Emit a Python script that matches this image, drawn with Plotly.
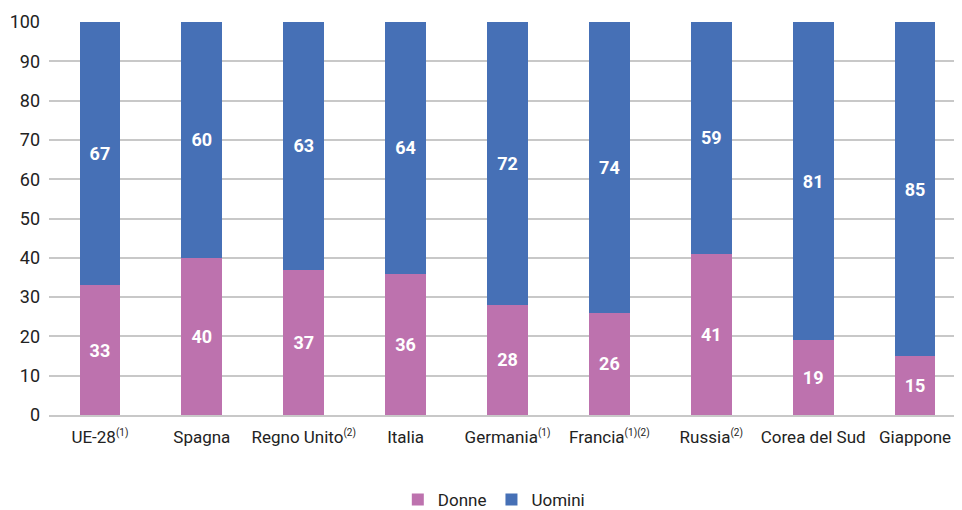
import plotly.graph_objects as go

def sup(s):
    return "<sup><span style='font-size:10px'>" + s + "</span></sup>"

categories = ["UE-28" + sup("(1)"), "Spagna", "Regno Unito" + sup("(2)"), "Italia",
              "Germania" + sup("(1)"), "Francia" + sup("(1)(2)"), "Russia" + sup("(2)"),
              "Corea del Sud", "Giappone"]
donne = [33, 40, 37, 36, 28, 26, 41, 19, 15]
uomini = [67, 60, 63, 64, 72, 74, 59, 81, 85]
y_ticks = [0, 10, 20, 30, 40, 50, 60, 70, 80, 90, 100]

FONT = "Roboto, Arial"

fig = go.Figure()
fig.add_trace(go.Bar(x=categories, y=donne, name="Donne", marker_color="#BD72AE",
                     text=donne, textposition="inside", insidetextanchor="middle",
                     textfont=dict(color="white", size=18, family=FONT, weight="bold")))
fig.add_trace(go.Bar(x=categories, y=uomini, name="Uomini", marker_color="#4670B6",
                     text=uomini, textposition="inside", insidetextanchor="middle",
                     textfont=dict(color="white", size=18, family=FONT, weight="bold")))

fig.update_layout(
    barmode="stack",
    bargap=0.6,
    width=962, height=510,
    margin=dict(l=41, r=4, t=14, b=103, autoexpand=False),
    paper_bgcolor="white", plot_bgcolor="white",
    font=dict(family=FONT, size=17, color="#222222"),
    legend=dict(orientation="h", x=0.505, xref="container", xanchor="center", y=12,
                yref="container", yanchor="bottom", font=dict(size=17), itemwidth=30,
                traceorder="normal"),
    yaxis=dict(range=[0, 100], tickvals=y_ticks, showgrid=True, gridcolor="#C8C8C8",
               gridwidth=1.5, zeroline=False, ticks="", ticklabelstandoff=8,
               tickfont=dict(size=18), automargin=False),
    xaxis=dict(showline=True, linecolor="#C8C8C8", linewidth=1.5, ticks="",
               tickfont=dict(size=17), ticklabelstandoff=6, automargin=False),
)
fig.update_traces(marker_line_width=0)
fig.write_html("out.html")
